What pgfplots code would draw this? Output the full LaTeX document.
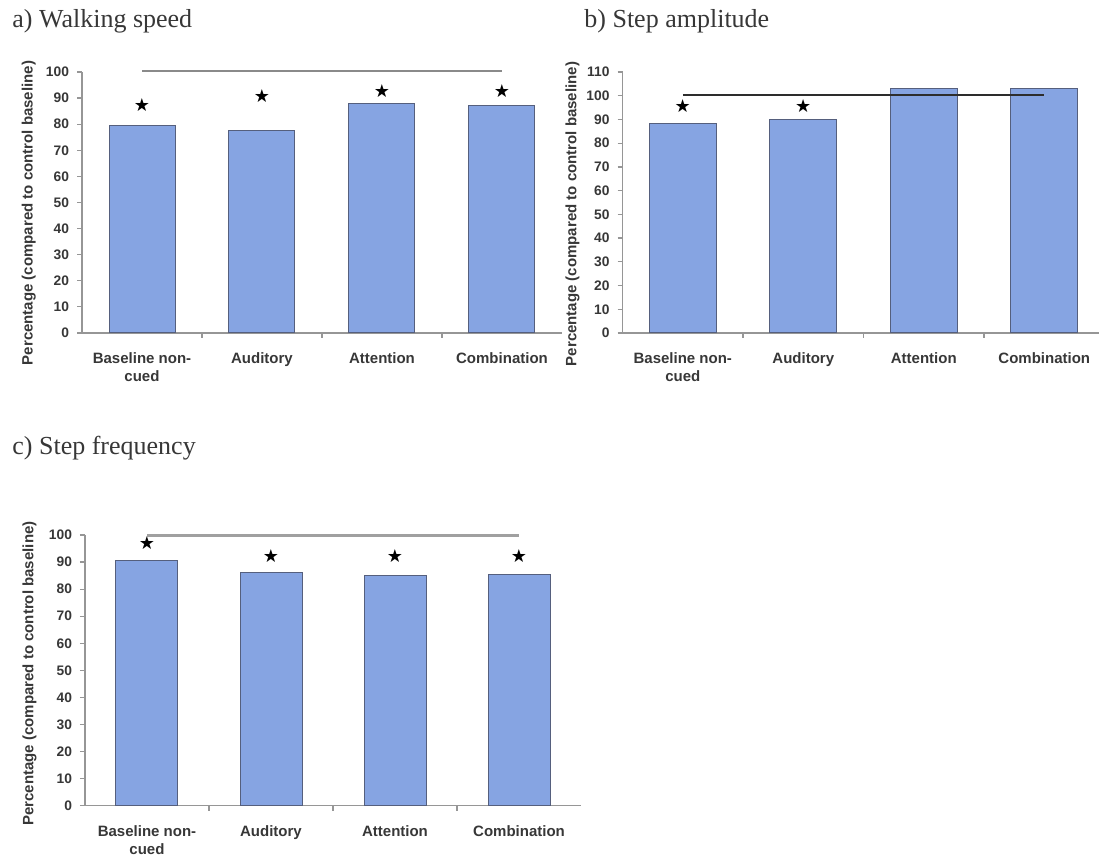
\documentclass[border=0pt]{standalone}
\usepackage{fontspec}
\setmainfont{Liberation Serif}
\setsansfont{Liberation Sans}
\newfontfamily\symfont{DejaVu Sans}
\usepackage{pgfplots}
\pgfplotsset{compat=1.18}
\definecolor{barfill}{RGB}{134,164,226}
\definecolor{baredge}{RGB}{85,95,125}
\definecolor{axgray}{RGB}{150,150,150}
\definecolor{txt}{RGB}{55,55,55}
\definecolor{lineA}{RGB}{138,138,138}
\definecolor{lineB}{RGB}{45,45,45}
\definecolor{lineC}{RGB}{160,160,160}
\pgfplotsset{
  panel/.style={
    scale only axis,
    anchor=south west,
    axis lines*=left,
    axis line style={axgray, line width=0.6pt},
    xmin=-0.5, xmax=3.5, ymin=0,
    xtick={0,1,2,3},
    xticklabels={Baseline non-\\cued, Auditory, Attention, Combination},
    major x tick style={draw=none},
    minor xtick={0.5,1.5,2.5},
    minor x tick style={axgray, line width=0.6pt},
    minor tick length=2.5pt,
    major tick length=2.5pt,
    tick align=outside,
    y tick style={axgray, line width=0.6pt},
    /pgf/number format/assume math mode=true,
    yticklabel style={font=\sffamily\bfseries\fontsize{6.9}{7}\selectfont, text=txt, xshift=-0.5pt},
    xticklabel style={font=\sffamily\bfseries\fontsize{7.5}{9}\selectfont, text=txt, align=center, anchor=north, yshift=-4pt},
    ylabel={Percentage (compared to control baseline)},
    ylabel style={font=\sffamily\bfseries\fontsize{7.5}{8}\selectfont, text=txt, anchor=center},
    clip=false,
  },
  bars/.style={ybar, fill=barfill, draw=baredge, line width=0.5pt},
  stars/.style={only marks, mark=text, text mark={\symfont\fontsize{9}{9}\selectfont ★}, mark options={text=black!72}},
}
\begin{document}
\begin{tikzpicture}
\path[use as bounding box] (0,0) rectangle (551.5pt,428pt);
\node[anchor=base west, inner sep=0pt, font=\fontsize{13}{14}\selectfont, text=txt] at (6pt,414pt) {a) Walking speed};
\node[anchor=base west, inner sep=0pt, font=\fontsize{13}{14}\selectfont, text=txt] at (292pt,414pt) {b) Step amplitude};
\node[anchor=base west, inner sep=0pt, font=\fontsize{13}{14}\selectfont, text=txt] at (6pt,200.5pt) {c) Step frequency};

% a) Walking speed
\begin{axis}[panel, at={(41pt,261.5pt)}, width=240pt, height=130.5pt,
  ymax=100, ytick={0,10,...,100},
  ylabel style={at={(axis description cs:-0.111,0.46)}}]
\addplot[bars, bar width=0.55] coordinates {(0,79.5) (1,77.6) (2,87.9) (3,87.2)};
\addplot[stars] coordinates {(0,87.5) (1,90.9) (2,92.6) (3,92.6)};
\addplot[lineA, line width=1.1pt, mark=none] coordinates {(0,100.3) (3,100.3)};
\end{axis}

% b) Step amplitude
\begin{axis}[panel, at={(311.25pt,261.5pt)}, width=238pt, height=130.5pt,
  xmax=3.45, ymax=110, ytick={0,10,...,110},
  ylabel style={at={(axis description cs:-0.105,0.456)}}]
\addplot[bars, bar width=0.556] coordinates {(0,88.2) (1,89.9) (2,103.2) (3,103.2)};
\addplot[stars] coordinates {(0,95.5) (1,95.5)};
\addplot[lineB, line width=1.3pt, mark=none] coordinates {(0,100.3) (3,100.3)};
\end{axis}

% c) Step frequency
\begin{axis}[panel, at={(42.5pt,25.15pt)}, width=248pt, height=135.35pt,
  ymax=100, ytick={0,10,...,100},
  ylabel style={at={(axis description cs:-0.112,0.488)}}]
\addplot[bars, bar width=0.5] coordinates {(0,90.6) (1,86.1) (2,85.2) (3,85.5)};
\addplot[stars] coordinates {(0,96.9) (1,92.2) (2,92.2) (3,92.2)};
\addplot[lineC, line width=1.1pt, mark=none] coordinates {(0,99.8) (3,99.8)};
\end{axis}
\end{tikzpicture}
\end{document}
